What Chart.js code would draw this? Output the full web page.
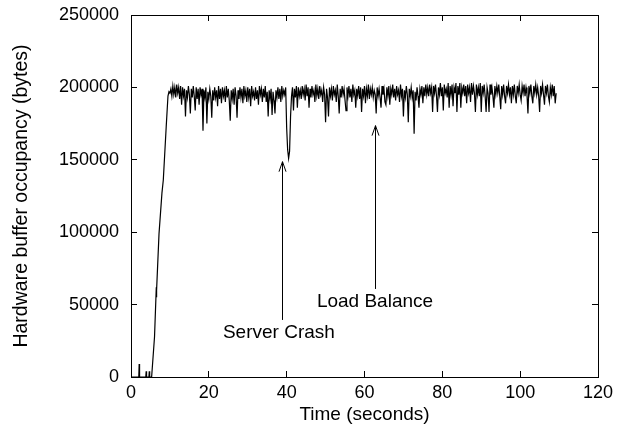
<!DOCTYPE html>
<html><head><meta charset="utf-8">
<script src="https://cdn.jsdelivr.net/npm/chart.js@4/dist/chart.umd.min.js"></script>
<style>html,body{margin:0;padding:0;background:#fff}#wrap{width:625px;height:426px}</style>
</head><body><div id="wrap"><canvas id="c" width="625" height="426"></canvas></div>
<script>
// ---- data (occupancy in thousands of bytes) ----
const startTimes = [0, 2.0, 2.1, 2.2, 3.8, 3.9, 4.0, 4.6, 4.7, 4.8, 5.3, 6.05, 6.5, 6.55, 6.6, 7.2, 7.95, 8.3, 9.05, 9.5, 9.75];
const startBytesK = [0, 0, 9, 0, 0, 4, 0, 0, 4, 0, 0, 28, 62, 55, 60, 99, 127, 136, 173, 194, 197];
const steadyStart = 10.0;   // seconds
const steadyStep = 0.25;    // seconds between samples
const steadyBytesK = [
  196,199,194,201,195,200,193,202,
  196,200,192,201,188,200,194,199,
  180,198,193,201,195,182,199,193,
  201,194,184,200,192,199,188,200,
  195,199,170,198,193,200,175,197,
  192,199,194,179,198,191,200,193,
  198,187,201,192,199,189,200,194,
  198,190,201,193,199,191,177,198,
  192,199,188,200,194,179,198,192,
  200,193,199,189,201,194,198,190,
  200,193,199,187,201,194,197,191,
  200,192,198,188,201,195,199,190,
  199,193,201,190,197,180,198,192,
  199,181,197,191,182,198,193,200,
  192,199,190,201,194,198,195,200,
  172,157,151,156,180,194,200,184,
  199,193,201,186,200,194,198,192,
  201,195,199,191,202,194,200,186,
  199,193,201,195,198,190,202,194,
  199,192,201,195,198,190,200,195,
  176,199,193,180,200,194,199,191,
  201,195,198,190,202,194,182,199,
  193,201,195,199,191,184,200,194,
  201,193,199,190,202,195,198,186,
  199,194,201,192,200,183,199,194,
  201,189,199,194,202,192,199,195,
  200,193,198,195,182,200,194,199,
  193,186,201,195,199,190,188,200,
  194,201,188,199,195,202,193,199,
  191,201,195,198,190,202,194,199,
  180,198,193,201,195,176,199,194,
  200,193,198,168,197,191,200,194,
  186,199,195,201,189,200,194,202,
  195,200,194,202,196,200,183,201,
  196,202,194,183,200,195,203,194,
  200,184,202,196,199,193,203,186,
  201,195,202,187,200,196,203,183,
  201,195,203,186,200,196,202,194,
  201,189,202,196,200,190,203,195,
  201,196,183,202,195,200,194,203,
  183,201,196,202,194,183,200,196,
  183,202,195,200,194,186,201,195,
  201,196,202,194,185,201,195,202,
  194,189,201,196,202,195,200,189,
  201,195,202,194,189,201,196,202,
  195,191,201,196,202,194,200,195,
  182,201,196,202,194,189,201,196,
  202,195,200,194,183,201,196,202,
  195,188,201,196,202,194,190,200,
  195,202,194,201,189,196
];
const xTickValues = [0, 20, 40, 60, 80, 100, 120];
const yTickValues = [0, 50000, 100000, 150000, 200000, 250000];
const noteTexts = ['Server Crash', 'Load Balance'];
const noteTextX = [38.0, 62.7];          // seconds
const noteTextY = [30400, 51800];        // bytes
const arrowX = [38.7, 62.8];             // seconds
const arrowFromY = [39400, 60800];       // bytes
const arrowToY = [148700, 173600];       // bytes

// ---- build points ----
const points = [];
startTimes.forEach((t, i) => points.push({x: t, y: startBytesK[i] * 1000}));
steadyBytesK.forEach((v, i) => points.push({x: steadyStart + i * steadyStep, y: v * 1000}));

const FONT = "'Liberation Sans', Arial, Helvetica, sans-serif";

const notePlugin = {
  id: 'notes',
  afterDraw(chart) {
    const ctx = chart.ctx;
    const xs = chart.scales.x, ys = chart.scales.y;
    ctx.save();
    ctx.strokeStyle = '#000';
    ctx.fillStyle = '#000';
    ctx.lineWidth = 1;
    arrowX.forEach((ax, i) => {
      const px = Math.round(xs.getPixelForValue(ax)) + 0.5;
      const y1 = ys.getPixelForValue(arrowFromY[i]);
      const y2 = ys.getPixelForValue(arrowToY[i]);
      ctx.beginPath();
      ctx.moveTo(px, y1); ctx.lineTo(px, y2);
      ctx.moveTo(px - 3.5, y2 + 10); ctx.lineTo(px, y2); ctx.lineTo(px + 3.5, y2 + 10);
      ctx.stroke();
    });
    ctx.font = '19px ' + FONT;
    ctx.textAlign = 'center';
    ctx.textBaseline = 'middle';
    noteTexts.forEach((t, i) => {
      ctx.fillText(t, xs.getPixelForValue(noteTextX[i]), ys.getPixelForValue(noteTextY[i]));
    });
    ctx.restore();
  }
};

const innerGrid = {display: true, drawOnChartArea: false, drawTicks: true, tickLength: -6, color: '#000', lineWidth: 1};
const blackBorder = {display: true, color: '#000', width: 1};

new Chart(document.getElementById('c'), {
  type: 'scatter',
  data: {
    datasets: [{
      data: points,
      showLine: true,
      borderColor: '#000',
      borderWidth: 1.2,
      pointRadius: 0,
      tension: 0,
      fill: false,
      xAxisID: 'x',
      yAxisID: 'y'
    }]
  },
  options: {
    responsive: false,
    animation: false,
    events: [],
    layout: {padding: {top: 15, right: 27, left: 0, bottom: 0}},
    plugins: {legend: {display: false}, tooltip: {enabled: false}},
    scales: {
      x: {
        type: 'linear', position: 'bottom', min: 0, max: 120,
        afterFit(s) { s.height = 49; s.paddingLeft = 0; s.paddingRight = 0; },
        afterBuildTicks(s) { s.ticks = xTickValues.map(v => ({value: v})); },
        grid: innerGrid,
        border: blackBorder,
        ticks: {color: '#000', padding: 11, font: {family: FONT, size: 18}, maxRotation: 0,
                callback: v => String(v)},
        title: {display: true, text: 'Time (seconds)', color: '#000',
                font: {family: FONT, size: 19}, padding: {top: 4, bottom: 0}}
      },
      x2: {
        type: 'linear', position: 'top', min: 0, max: 120,
        afterFit(s) { s.height = 0; s.paddingLeft = 0; s.paddingRight = 0; },
        afterBuildTicks(s) { s.ticks = xTickValues.map(v => ({value: v})); },
        grid: innerGrid,
        border: blackBorder,
        ticks: {display: false}
      },
      y: {
        type: 'linear', position: 'left', min: 0, max: 250000,
        afterFit(s) { s.width = 131; s.paddingTop = 0; s.paddingBottom = 0; },
        afterBuildTicks(s) { s.ticks = yTickValues.map(v => ({value: v})); },
        grid: innerGrid,
        border: blackBorder,
        ticks: {color: '#000', padding: 18, font: {family: FONT, size: 18},
                callback: v => String(v)},
        title: {display: true, text: 'Hardware buffer occupancy (bytes)', color: '#000',
                font: {family: FONT, size: 19.5}, padding: {top: 10, bottom: 0}}
      },
      y2: {
        type: 'linear', position: 'right', min: 0, max: 250000,
        afterFit(s) { s.width = 0; s.paddingTop = 0; s.paddingBottom = 0; },
        afterBuildTicks(s) { s.ticks = yTickValues.map(v => ({value: v})); },
        grid: innerGrid,
        border: blackBorder,
        ticks: {display: false}
      }
    }
  },
  plugins: [notePlugin]
});
</script>
</body></html>
